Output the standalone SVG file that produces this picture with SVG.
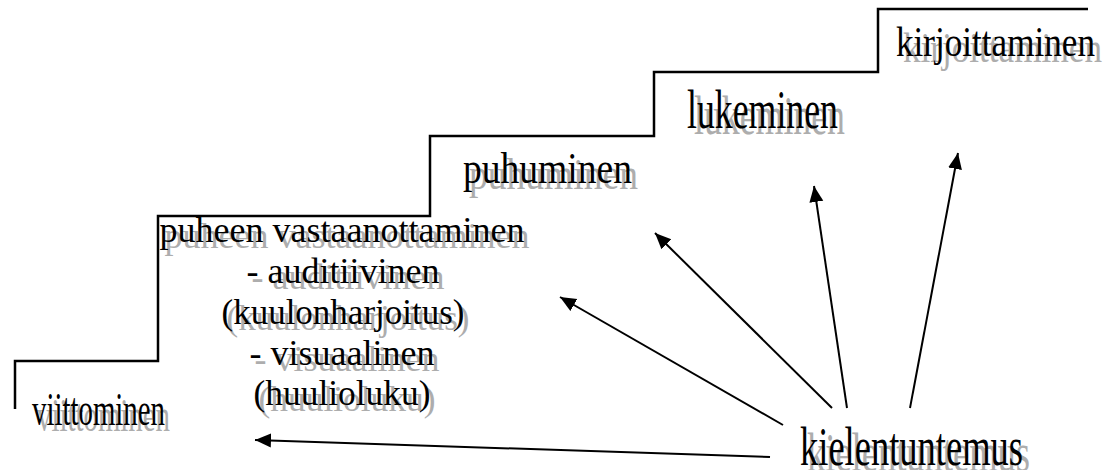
<svg xmlns="http://www.w3.org/2000/svg" width="1116" height="470" viewBox="0 0 1116 470">
<style>
.t{font-family:"Liberation Serif","Times New Roman",serif;fill:#000}
.s{font-family:"Liberation Serif","Times New Roman",serif;fill:#adadad}
.blk{font-size:36px;text-anchor:middle}
.stair{fill:none;stroke:#000;stroke-width:2.5}
.arr{stroke:#000;stroke-width:2;fill:none;marker-end:url(#ah)}
</style>
<defs>
<marker id="ah" markerUnits="userSpaceOnUse" markerWidth="17" markerHeight="15" refX="16" refY="7" orient="auto">
<path d="M0,0 L16,7 L0,14 z" fill="#000"/>
</marker>
</defs>
<rect width="1116" height="470" fill="#fff"/>
<polyline class="stair" points="15,409 15,361 158,361 158,216 430,216 430,136 654,136 654,72 878,72 878,9 1088,9"/>

<g id="viittominen">
<text class="s" x="37" y="431" font-size="47" textLength="133" lengthAdjust="spacingAndGlyphs">viittominen</text>
<text class="t" x="32" y="425" font-size="47" textLength="133" lengthAdjust="spacingAndGlyphs">viittominen</text>
</g>

<g id="puheen">
<text class="s blk" x="347" y="248" textLength="365" lengthAdjust="spacingAndGlyphs">puheen vastaanottaminen</text>
<text class="s blk" x="348" y="289" textLength="193" lengthAdjust="spacingAndGlyphs">- auditiivinen</text>
<text class="s blk" x="348" y="330" textLength="243" lengthAdjust="spacingAndGlyphs">(kuulonharjoitus)</text>
<text class="s blk" x="347" y="371" textLength="185" lengthAdjust="spacingAndGlyphs">- visuaalinen</text>
<text class="s blk" x="347" y="411" textLength="177" lengthAdjust="spacingAndGlyphs">(huulioluku)</text>
<text class="t blk" x="342" y="242" textLength="365" lengthAdjust="spacingAndGlyphs">puheen vastaanottaminen</text>
<text class="t blk" x="343" y="283" textLength="193" lengthAdjust="spacingAndGlyphs">- auditiivinen</text>
<text class="t blk" x="343" y="324" textLength="243" lengthAdjust="spacingAndGlyphs">(kuulonharjoitus)</text>
<text class="t blk" x="342" y="365" textLength="185" lengthAdjust="spacingAndGlyphs">- visuaalinen</text>
<text class="t blk" x="342" y="405" textLength="177" lengthAdjust="spacingAndGlyphs">(huulioluku)</text>
</g>

<g id="puhuminen">
<text class="s" x="469" y="189" font-size="44" textLength="169" lengthAdjust="spacingAndGlyphs">puhuminen</text>
<text class="t" x="463" y="183" font-size="44" textLength="169" lengthAdjust="spacingAndGlyphs">puhuminen</text>
</g>

<g id="lukeminen">
<text class="s" x="694" y="134" font-size="55" textLength="151" lengthAdjust="spacingAndGlyphs">lukeminen</text>
<text class="t" x="687" y="128" font-size="55" textLength="151" lengthAdjust="spacingAndGlyphs">lukeminen</text>
</g>

<g id="kirjoittaminen">
<text class="s" x="903" y="62" font-size="43" textLength="199" lengthAdjust="spacingAndGlyphs">kirjoittaminen</text>
<text class="t" x="896" y="56" font-size="43" textLength="199" lengthAdjust="spacingAndGlyphs">kirjoittaminen</text>
</g>

<g id="kielentuntemus">
<text class="s" x="807" y="471" font-size="55" textLength="223" lengthAdjust="spacingAndGlyphs">kielentuntemus</text>
<text class="t" x="800" y="465" font-size="55" textLength="223" lengthAdjust="spacingAndGlyphs">kielentuntemus</text>
</g>

<g id="connectors">
<line class="arr" x1="770" y1="457" x2="255" y2="440"/>
<line class="arr" x1="783" y1="425" x2="560" y2="297"/>
<line class="arr" x1="832" y1="408" x2="655" y2="233"/>
<line class="arr" x1="847" y1="408" x2="814" y2="186"/>
<line class="arr" x1="910" y1="408" x2="958" y2="153"/>
</g>
</svg>
